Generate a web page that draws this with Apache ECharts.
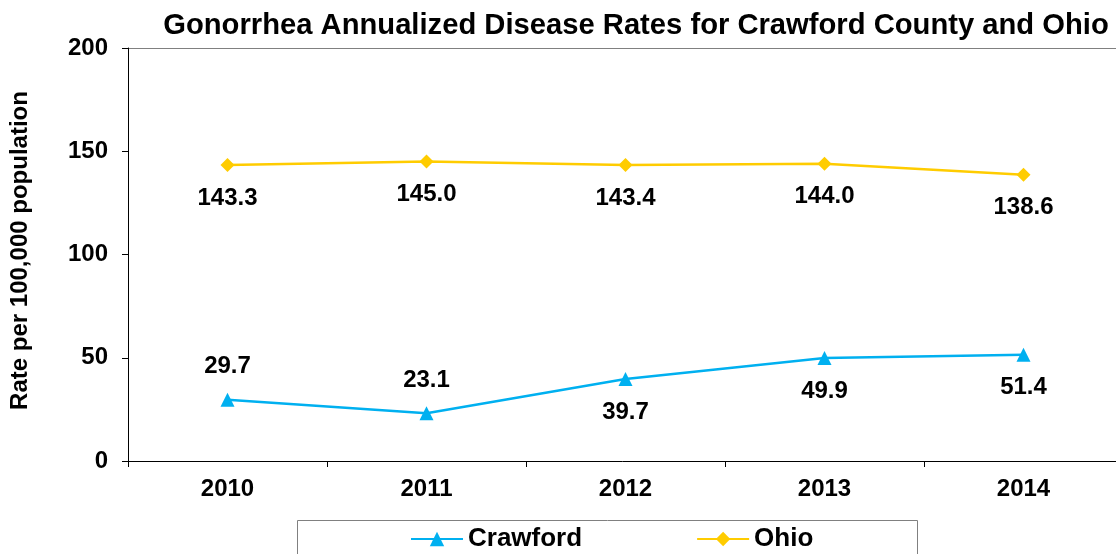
<!DOCTYPE html>
<html><head><meta charset="utf-8">
<script src="https://cdn.jsdelivr.net/npm/echarts@6/dist/echarts.min.js"></script>
<style>html,body{margin:0;padding:0;background:#fff}#c{width:1116px;height:554px}</style>
</head><body><div id="c"></div>
<script>
const years = ['2010','2011','2012','2013','2014'];
const crawford = [29.7, 23.1, 39.7, 49.9, 51.4];
const ohio = [143.3, 145.0, 143.4, 144.0, 138.6];
const crawfordLabelPos = ['top','top','bottom','bottom','bottom'];
const yTicks = [0, 50, 100, 150, 200];

const F = 'Liberation Sans, Arial, sans-serif';
const chart = echarts.init(document.getElementById('c'), null, {renderer:'canvas'});
chart.setOption({
  animation:false,
  backgroundColor:'#fff',
  title:{text:'Gonorrhea Annualized Disease Rates for Crawford County and Ohio', left:631, textAlign:'center', top:6,
    textStyle:{fontFamily:F, fontWeight:'bold', fontSize:29.2, color:'#000'}},
  grid:{left:128, top:48, bottom:93, right:-7, show:false, containLabel:false, outerBoundsMode:'none'},
  legend:{left:405, top:521, itemWidth:52, itemHeight:18, itemGap:114,
    textStyle:{fontFamily:F, fontWeight:'bold', fontSize:26, color:'#000'},
    data:['Crawford','Ohio']},
  graphic:[
    {type:'polyline', shape:{points:[[297.5,560],[297.5,520.5],[917.5,520.5],[917.5,560]]},
      style:{fill:null, stroke:'#808080', lineWidth:1}},
    {type:'line', shape:{x1:122, y1:48.5, x2:1116, y2:48.5}, style:{stroke:'#808080', lineWidth:1}}
  ],
  xAxis:{type:'category', data:years, boundaryGap:true,
    axisLine:{lineStyle:{color:'#000', width:1}},
    axisTick:{show:true, alignWithLabel:false, length:6, lineStyle:{color:'#000'}},
    axisLabel:{fontFamily:F, fontWeight:'bold', fontSize:24, color:'#000', margin:16}},
  yAxis:{type:'value', min:0, max:200, interval:50,
    name:'Rate per 100,000 population', nameLocation:'middle', nameGap:96, nameRotate:90,
    nameTextStyle:{fontFamily:F, fontWeight:'bold', fontSize:24, color:'#000', padding:[0,0,0,8]},
    axisLine:{show:true, lineStyle:{color:'#000', width:1}},
    axisTick:{show:true, length:6, lineStyle:{color:'#000'}},
    splitLine:{show:false},
    axisLabel:{fontFamily:F, fontWeight:'bold', fontSize:24, color:'#000', margin:20,
      formatter:v=>yTicks.includes(v)?String(v):''}},
  series:[
    {name:'Crawford', type:'line', data:crawford.map((v,i)=>({value:v, label:{position:crawfordLabelPos[i]}})),
      color:'#00B0F0', symbol:'triangle', symbolSize:14, lineStyle:{width:2.5, color:'#00B0F0'},
      itemStyle:{color:'#00B0F0'},
      label:{show:true, distance:14, fontFamily:F, fontWeight:'bold', fontSize:24, color:'#000', formatter:p=>p.value.toFixed(1)}},
    {name:'Ohio', type:'line', data:ohio, color:'#FFCC00', symbol:'diamond', symbolSize:14,
      lineStyle:{width:2.5, color:'#FFCC00'}, itemStyle:{color:'#FFCC00'},
      label:{show:true, position:'bottom', distance:14, fontFamily:F, fontWeight:'bold', fontSize:24, color:'#000', formatter:p=>p.value.toFixed(1)}}
  ]
});
</script></body></html>
